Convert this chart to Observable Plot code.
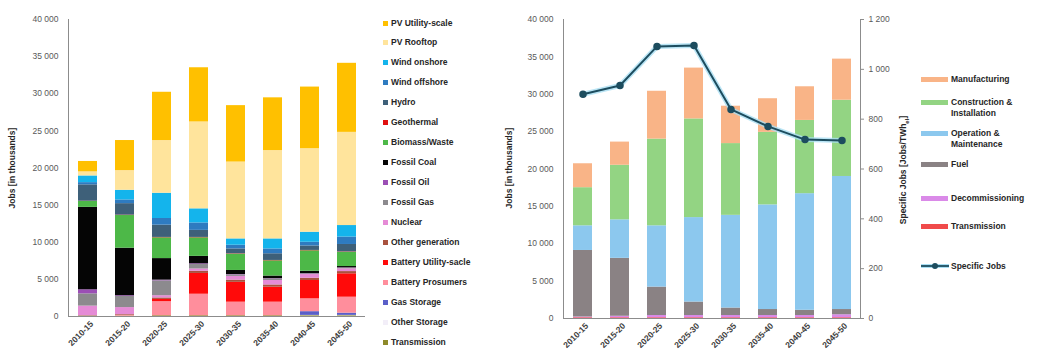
<!DOCTYPE html>
<html>
<head>
<meta charset="utf-8">
<script src="https://cdn.jsdelivr.net/npm/d3@7"></script>
<script src="https://cdn.jsdelivr.net/npm/@observablehq/plot@0.6"></script>
<style>
  html, body { margin: 0; padding: 0; background: #fff; }
  #root { position: relative; width: 1038px; height: 363px; overflow: hidden; font-family: "Liberation Sans", Arial, sans-serif; color: #262626; }
  .panel { position: absolute; top: 0; }
  .ytitle { position: absolute; font-size: 8.5px; font-weight: bold; white-space: nowrap; transform: translate(-50%, -50%) rotate(-90deg); color: #262626; }
  .leg { position: absolute; font-size: 8.5px; font-weight: bold; white-space: nowrap; color: #262626; }
  .sq { position: absolute; width: 5px; height: 5px; }
  .sw { position: absolute; width: 27px; height: 5px; }
</style>
</head>
<body>
<div id="root"></div>
<script>
// ---------- Data ----------
const periods = ["2010-15","2015-20","2020-25","2025-30","2030-35","2035-40","2040-45","2045-50"];

// Left chart: jobs by technology (thousands), stacked bottom -> top = Transmission ... PV Utility-scale
const techNames = ["PV Utility-scale","PV Rooftop","Wind onshore","Wind offshore","Hydro","Geothermal","Biomass/Waste","Fossil Coal","Fossil Oil","Fossil Gas","Nuclear","Other generation","Battery Utility-sacle","Battery Prosumers","Gas Storage","Other Storage","Transmission"];
const techColors = ["#FFC000","#FFE49C","#14B4EC","#2E7BC0","#3E6079","#E01010","#4DB848","#050505","#9B4FB5","#8C8A8E","#E58BD6","#A9523F","#FF0A0A","#FF8E9C","#5A5FC8","#F2EEF8","#8E8A2A"];

const pvUtility        = [1400, 4050, 6500, 7300, 7600, 7100, 8300, 9300];
const pvRooftop        = [550, 2650, 7100, 11700, 10350, 11900, 11250, 12550];
const windOnshore      = [900, 1300, 3400, 1900, 850, 1350, 1350, 1550];
const windOffshore     = [300, 500, 900, 1000, 500, 650, 500, 1000];
const hydro            = [2200, 1550, 1650, 950, 650, 900, 600, 1000];
const geothermal       = [30, 50, 50, 50, 50, 50, 50, 50];
const biomassWaste     = [800, 4400, 2800, 2500, 2200, 2050, 2750, 1920];
const fossilCoal       = [11100, 6400, 2900, 1000, 550, 350, 320, 180];
const fossilOil        = [550, 100, 100, 100, 50, 50, 30, 30];
const fossilGas        = [1650, 1500, 2000, 600, 200, 200, 100, 100];
const nuclear          = [1300, 950, 300, 300, 500, 600, 500, 370];
const otherGeneration  = [50, 100, 200, 300, 300, 300, 300, 300];
const batteryUtility   = [0, 0, 300, 2800, 2670, 2020, 2470, 3150];
const batteryProsumers = [0, 100, 1900, 2900, 1830, 1830, 1730, 2150];
const gasStorage       = [0, 0, 0, 0, 0, 0, 500, 300];
const otherStorage     = [0, 0, 0, 0, 0, 0, 50, 50];
const transmissionTech = [50, 50, 100, 100, 100, 100, 100, 100];

const techSeries = [pvUtility, pvRooftop, windOnshore, windOffshore, hydro, geothermal, biomassWaste, fossilCoal, fossilOil, fossilGas, nuclear, otherGeneration, batteryUtility, batteryProsumers, gasStorage, otherStorage, transmissionTech];

// Right chart: jobs by category
const catNames  = ["Manufacturing","Construction & Installation","Operation & Maintenance","Fuel","Decommissioning","Transmission"];
const catColors = ["#F9B487","#93D483","#8CC8EE","#8A8284","#DA8AE8","#F04A4A"];
const manufacturing   = [3200, 3100, 6400, 6800, 5000, 4500, 4500, 5500];
const constructionInst= [5100, 7300, 11600, 13200, 9600, 9700, 9800, 10200];
const operationMaint  = [3300, 5150, 8200, 11300, 12400, 14000, 15600, 17800];
const fuel            = [8900, 7750, 3800, 1800, 1000, 800, 700, 700];
const decommissioning = [100, 200, 300, 300, 300, 300, 300, 400];
const transmissionCat = [100, 100, 100, 100, 100, 100, 100, 100];
const catSeries = [manufacturing, constructionInst, operationMaint, fuel, decommissioning, transmissionCat];

const specificJobs = [900, 935, 1092, 1096, 839, 771, 718, 714];

const yTicks = [0, 5000, 10000, 15000, 20000, 25000, 30000, 35000, 40000];
const rightTicks = [0, 200, 400, 600, 800, 1000, 1200];

// ---------- Helpers ----------
const fmt = d => d3.format(",")(d).replace(/,/g, " ");
const RMAX = 1200, LMAX = 40000, k = LMAX / RMAX;

// tidy tables (bottom -> top order for stacking)
const techRows = [];
for (let s = techNames.length - 1; s >= 0; s--)
  periods.forEach((p, i) => techRows.push({period: p, series: techNames[s], value: techSeries[s][i]}));
const catRows = [];
for (let s = catNames.length - 1; s >= 0; s--)
  periods.forEach((p, i) => catRows.push({period: p, series: catNames[s], value: catSeries[s][i]}));
const lineRows = periods.map((p, i) => ({period: p, v: specificJobs[i]}));

const root = document.getElementById("root");
const style = {fontFamily: '"Liberation Sans", Arial, sans-serif', fontSize: "8.5px", color: "#404040", background: "transparent", overflow: "visible"};

// ---------- Left chart ----------
const left = Plot.plot({
  width: 370, height: 363,
  marginLeft: 68, marginRight: 5, marginTop: 19, marginBottom: 47,
  style,
  x: {domain: periods, paddingInner: 0.5, paddingOuter: 0.25},
  y: {domain: [0, LMAX]},
  color: {domain: techNames, range: techColors},
  marks: [
    Plot.barY(techRows, {x: "period", y: "value", fill: "series", order: null}),
    Plot.axisY({ticks: yTicks, tickSize: 0, tickPadding: 10, tickFormat: fmt, label: null, fill: "#595959"}),
    Plot.axisX({tickSize: 0, tickRotate: -45, tickPadding: 6, label: null, fontWeight: "bold", fill: "#404040", dx: 4}),
    Plot.frame({anchor: "left", stroke: "#8c8c8c"}),
    Plot.ruleY([0], {stroke: "#8c8c8c", strokeWidth: 1})
  ]
});
left.classList.add("panel");
left.style.left = "0px";
root.appendChild(left);

// ---------- Right chart ----------
const right = Plot.plot({
  width: 400, height: 363,
  marginLeft: 63, marginRight: 40, marginTop: 19, marginBottom: 45,
  style,
  x: {domain: periods, paddingInner: 0.5, paddingOuter: 0.25},
  y: {domain: [0, LMAX]},
  color: {domain: catNames, range: catColors},
  marks: [
    Plot.barY(catRows, {x: "period", y: "value", fill: "series", order: null}),
    Plot.axisY({ticks: yTicks, tickSize: 0, tickPadding: 10, tickFormat: fmt, label: null, fill: "#595959"}),
    Plot.axisY(rightTicks.map(v => v * k), {anchor: "right", tickSize: 3, tickPadding: 5, stroke: "#8c8c8c", tickFormat: d => fmt(Math.round(d / k)), label: null, fill: "#595959"}),
    Plot.axisX({tickSize: 0, tickRotate: -45, tickPadding: 6, label: null, fontWeight: "bold", fill: "#404040", dx: 4}),
    Plot.frame({anchor: "left", stroke: "#8c8c8c"}),
    Plot.frame({anchor: "right", stroke: "#8c8c8c"}),
    Plot.ruleY([0], {stroke: "#8c8c8c", strokeWidth: 1}),
    Plot.line(lineRows, {x: "period", y: d => d.v * k, stroke: "#a9def3", strokeWidth: 5, strokeOpacity: 0.8}),
    Plot.line(lineRows, {x: "period", y: d => d.v * k, stroke: "#1d4d5f", strokeWidth: 2}),
    Plot.dot(lineRows, {x: "period", y: d => d.v * k, r: 3, fill: "#1d4d5f", stroke: "#1d4d5f"})
  ]
});
right.classList.add("panel");
right.style.left = "500px";
root.appendChild(right);

// ---------- Titles ----------
function yTitle(html, x, y) {
  const d = document.createElement("div");
  d.className = "ytitle";
  d.innerHTML = html;
  d.style.left = x + "px"; d.style.top = y + "px";
  root.appendChild(d);
}
yTitle("Jobs [in thousands]", 12, 168);
yTitle("Jobs [in thousands]", 509, 168);
yTitle("Specific Jobs [Jobs/TWh<sub style='font-size:6px'>el</sub>]", 904, 170);

// ---------- Left legend ----------
techNames.forEach((n, i) => {
  const y = 23 + i * 19.94;
  const sq = document.createElement("div");
  sq.className = "sq";
  sq.style.left = "383px"; sq.style.top = (y - 2.5) + "px"; sq.style.background = techColors[i];
  root.appendChild(sq);
  const t = document.createElement("div");
  t.className = "leg";
  t.textContent = n;
  t.style.left = "391px"; t.style.top = (y - 5.5) + "px";
  root.appendChild(t);
});

// ---------- Right legend ----------
const rightLeg = [
  {lines: ["Manufacturing"], y: 79, color: catColors[0]},
  {lines: ["Construction &", "Installation"], y: 102, color: catColors[1]},
  {lines: ["Operation &", "Maintenance"], y: 133, color: catColors[2]},
  {lines: ["Fuel"], y: 164, color: catColors[3]},
  {lines: ["Decommissioning"], y: 198, color: catColors[4]},
  {lines: ["Transmission"], y: 226, color: catColors[5]}
];
rightLeg.forEach(it => {
  const sw = document.createElement("div");
  sw.className = "sw";
  sw.style.left = "921px"; sw.style.top = (it.y - 2.5) + "px"; sw.style.background = it.color;
  root.appendChild(sw);
  it.lines.forEach((ln, j) => {
    const t = document.createElement("div");
    t.className = "leg";
    t.textContent = ln;
    t.style.left = "951px"; t.style.top = (it.y - 5.5 + j * 11) + "px";
    root.appendChild(t);
  });
});
// line legend entry
const lineSw = document.createElementNS("http://www.w3.org/2000/svg", "svg");
lineSw.setAttribute("width", 30); lineSw.setAttribute("height", 10);
lineSw.style.position = "absolute"; lineSw.style.left = "920px"; lineSw.style.top = "261px";
lineSw.innerHTML = '<line x1="1" y1="5" x2="29" y2="5" stroke="#a9def3" stroke-width="4"/><line x1="1" y1="5" x2="29" y2="5" stroke="#1d4d5f" stroke-width="1.8"/><circle cx="15" cy="5" r="3" fill="#1d4d5f"/>';
root.appendChild(lineSw);
const lt = document.createElement("div");
lt.className = "leg"; lt.textContent = "Specific Jobs";
lt.style.left = "951px"; lt.style.top = "260.5px";
root.appendChild(lt);
</script>
</body>
</html>
